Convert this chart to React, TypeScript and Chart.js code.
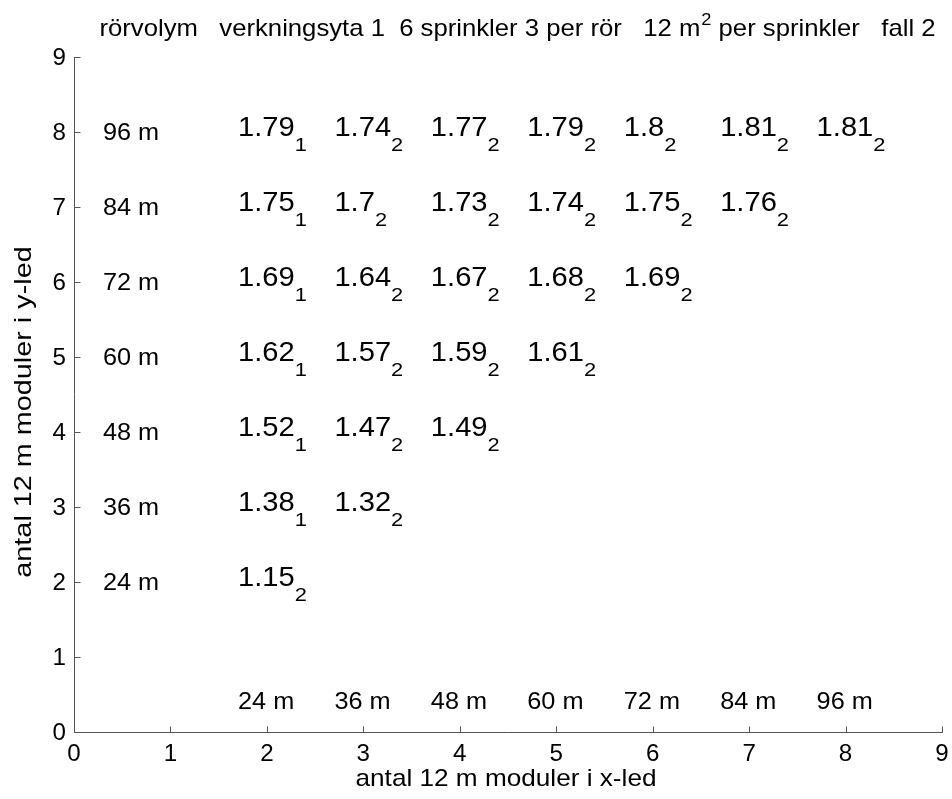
import React, { useEffect, useRef } from "react";
import { Chart, registerables } from "chart.js";

Chart.register(...registerables);

// ---- data ----
const xTickValues = [0, 1, 2, 3, 4, 5, 6, 7, 8, 9];
const yTickValues = [0, 1, 2, 3, 4, 5, 6, 7, 8, 9];
const columns = [2, 3, 4, 5, 6, 7, 8];
const rows = [8, 7, 6, 5, 4, 3, 2];
const rowLabels = ["96 m", "84 m", "72 m", "60 m", "48 m", "36 m", "24 m"];
const colLabels = ["24 m", "36 m", "48 m", "60 m", "72 m", "84 m", "96 m"];
const row8 = [1.79, 1.74, 1.77, 1.79, 1.8, 1.81, 1.81];
const row7 = [1.75, 1.7, 1.73, 1.74, 1.75, 1.76];
const row6 = [1.69, 1.64, 1.67, 1.68, 1.69];
const row5 = [1.62, 1.57, 1.59, 1.61];
const row4 = [1.52, 1.47, 1.49];
const row3 = [1.38, 1.32];
const row2 = [1.15];
const rowValues = [row8, row7, row6, row5, row4, row3, row2];
const sub8 = [1, 2, 2, 2, 2, 2, 2];
const sub7 = [1, 2, 2, 2, 2, 2];
const sub6 = [1, 2, 2, 2, 2];
const sub5 = [1, 2, 2, 2];
const sub4 = [1, 2, 2];
const sub3 = [1, 2];
const sub2 = [2];
const rowSubs = [sub8, sub7, sub6, sub5, sub4, sub3, sub2];
const titleParts = ["rörvolym   verkningsyta 1  6 sprinkler 3 per rör   12 m", "2", " per sprinkler   fall 2"];
const xTitle = "antal 12 m moduler i x-led";
const yTitle = "antal 12 m moduler i y-led";

const FONT = '"Liberation Sans", Arial, Helvetica, sans-serif';
const AXIS_COLOR = "#555555";

function measure(ctx: CanvasRenderingContext2D, s: string, size: number, sx = 1): number {
  ctx.save();
  ctx.font = `${size}px ${FONT}`;
  const w = ctx.measureText(s).width * sx;
  ctx.restore();
  return w;
}

function drawText(
  ctx: CanvasRenderingContext2D,
  s: string,
  x: number,
  y: number,
  size: number,
  align: CanvasTextAlign = "left",
  sx = 1
): number {
  ctx.save();
  ctx.font = `${size}px ${FONT}`;
  ctx.fillStyle = "#000";
  ctx.textBaseline = "alphabetic";
  ctx.textAlign = align;
  const w = ctx.measureText(s).width * sx;
  ctx.translate(x, y);
  ctx.scale(sx, 1);
  ctx.fillText(s, 0, 0);
  ctx.restore();
  return w;
}

const annotPlugin = {
  id: "annot",
  afterDraw(chart: any) {
    const ctx: CanvasRenderingContext2D = chart.ctx;
    const xs = chart.scales.x;
    const ys = chart.scales.y;
    const px = (v: number) => xs.getPixelForValue(v);
    const py = (v: number) => ys.getPixelForValue(v);
    ctx.save();
    // axes
    ctx.strokeStyle = AXIS_COLOR;
    ctx.lineWidth = 1;
    const xl = Math.round(px(0)) + 0.5;
    const yb = Math.round(py(0)) + 0.5;
    ctx.beginPath();
    ctx.moveTo(xl, Math.round(py(9)));
    ctx.lineTo(xl, yb);
    ctx.lineTo(Math.round(px(9)) + 1, yb);
    ctx.stroke();
    const TL = 6;
    ctx.beginPath();
    xTickValues.forEach((v) => {
      const x = Math.round(px(v)) + 0.5;
      ctx.moveTo(x, yb);
      ctx.lineTo(x, yb - TL);
    });
    yTickValues.forEach((v) => {
      const y = Math.round(py(v)) + 0.5;
      ctx.moveTo(xl, y);
      ctx.lineTo(xl + TL, y);
    });
    ctx.stroke();
    ctx.restore();

    // tick labels
    xTickValues.forEach((v) => drawText(ctx, String(v), px(v), py(0) + 29, 23, "center", 1.05));
    yTickValues.forEach((v) => drawText(ctx, String(v), px(0) - 8, py(v) + 8, 23, "right", 1.05));

    // axis titles
    drawText(ctx, xTitle, (px(0) + px(9)) / 2 - 2, 786, 24, "center", 1.09);
    ctx.save();
    ctx.translate(31, 412);
    ctx.rotate(-Math.PI / 2);
    drawText(ctx, yTitle, 0, 0, 24, "center", 1.2);
    ctx.restore();

    // title
    const TS = 24, TSX = 1.07, SS = 17;
    const w0 = measure(ctx, titleParts[0], TS, TSX);
    const w1 = measure(ctx, titleParts[1], SS, TSX);
    const w2 = measure(ctx, titleParts[2], TS, TSX);
    let tx = (px(0) + px(9)) / 2 + 9 - (w0 + w1 + w2) / 2;
    const tb = 36;
    tx += drawText(ctx, titleParts[0], tx, tb, TS, "left", TSX);
    tx += drawText(ctx, titleParts[1], tx + 1, tb - 11, SS, "left", TSX) + 1;
    drawText(ctx, titleParts[2], tx, tb, TS, "left", TSX);

    // row labels and column labels
    rows.forEach((r, i) => drawText(ctx, rowLabels[i], px(0.3), py(r) + 8, 23, "left", 1.1));
    columns.forEach((c, i) => drawText(ctx, colLabels[i], px(c - 0.3), py(0.4) + 7, 23, "left", 1.1));

    // values from dataset points
    chart.data.datasets.forEach((ds: any, di: number) => {
      const meta = chart.getDatasetMeta(di);
      meta.data.forEach((pt: any, j: number) => {
        const raw = ds.data[j];
        const x = px(raw.x - 0.3);
        const y = pt.y;
        const w = drawText(ctx, String(raw.v), x, y + 3.5, 28, "left", 1.04);
        drawText(ctx, String(raw.s), x + w, y + 18.5, 19, "left", 1.15);
      });
    });
  },
};

export default function App() {
  const ref = useRef<HTMLCanvasElement | null>(null);
  useEffect(() => {
    if (!ref.current) return;
    const datasets = rows.map((r, i) => ({
      label: "row " + r,
      data: rowValues[i].map((v, j) => ({ x: columns[j], y: r, v, s: rowSubs[i][j] })),
      pointRadius: 0,
      showLine: false,
    }));
    const chart = new Chart(ref.current, {
      type: "scatter",
      data: { datasets },
      options: {
        animation: false,
        responsive: false,
        events: [],
        layout: { padding: { left: 74, right: 10, top: 57, bottom: 67 } },
        plugins: { legend: { display: false }, tooltip: { enabled: false }, title: { display: false } },
        scales: {
          x: { type: "linear", min: 0, max: 9, display: false },
          y: { type: "linear", min: 0, max: 9, display: false },
        },
      },
      plugins: [annotPlugin],
    } as any);
    return () => chart.destroy();
  }, []);
  return (
    <div style={{ position: "fixed", left: 0, top: 0, width: 952, height: 799, background: "#fff" }}>
      <canvas ref={ref} width={952} height={799} style={{ display: "block" }} />
    </div>
  );
}
